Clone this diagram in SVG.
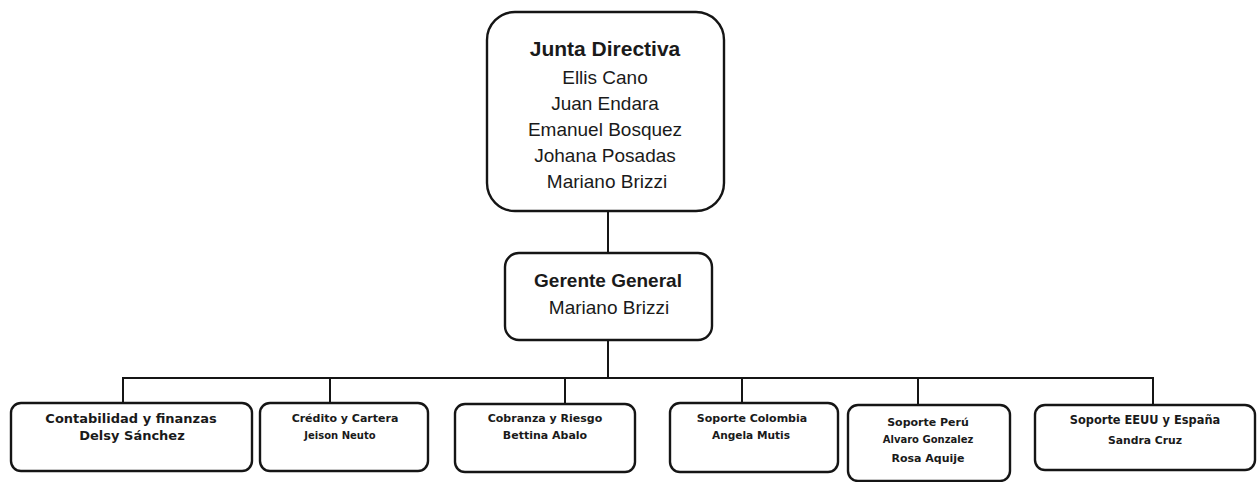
<svg xmlns="http://www.w3.org/2000/svg" width="1257" height="482" viewBox="0 0 1257 482">
<style>
.box{fill:#fff;stroke:#151515;stroke-width:2.4}
.conn line{stroke:#151515;stroke-width:2}
.t{font-family:"Liberation Sans",Arial,sans-serif;fill:#1a1a1a;text-anchor:middle}
.s{font-family:"DejaVu Sans",Verdana,sans-serif;fill:#1a1a1a;text-anchor:middle;font-weight:bold}
</style>
<rect width="1257" height="482" fill="#fff"/>
<g id="connectors" class="conn">
<line x1="608" y1="211" x2="608" y2="253"/>
<line x1="608" y1="340" x2="608" y2="378"/>
<line x1="122" y1="378" x2="1154" y2="378"/>
<line x1="123" y1="378" x2="123" y2="403"/>
<line x1="330" y1="378" x2="330" y2="403"/>
<line x1="565" y1="378" x2="565" y2="404"/>
<line x1="742" y1="378" x2="742" y2="403"/>
<line x1="918" y1="378" x2="918" y2="405"/>
<line x1="1153" y1="378" x2="1153" y2="405"/>
</g>
<g id="junta">
<rect class="box" x="487" y="12" width="237" height="199" rx="28"/>
<text class="t" x="605" y="56" font-size="21" font-weight="bold">Junta Directiva</text>
<text class="t" x="605" y="84" font-size="19">Ellis Cano</text>
<text class="t" x="605" y="110" font-size="19">Juan Endara</text>
<text class="t" x="605" y="136" font-size="19">Emanuel Bosquez</text>
<text class="t" x="605" y="162" font-size="19">Johana Posadas</text>
<text class="t" x="607" y="188" font-size="19">Mariano Brizzi</text>
</g>
<g id="gerente">
<rect class="box" x="505" y="253" width="207" height="87" rx="14"/>
<text class="t" x="608" y="287" font-size="19" font-weight="bold">Gerente General</text>
<text class="t" x="609" y="314" font-size="19">Mariano Brizzi</text>
</g>
<g id="contabilidad">
<rect class="box" x="11" y="403" width="241" height="68" rx="10"/>
<text class="s" x="131" y="423" font-size="13">Contabilidad y finanzas</text>
<text class="s" x="132" y="440" font-size="13">Delsy Sánchez</text>
</g>
<g id="credito">
<rect class="box" x="260" y="403" width="168" height="68" rx="10"/>
<text class="s" x="345" y="422" font-size="11">Crédito y Cartera</text>
<text class="s" x="340" y="439" font-size="10">Jeison Neuto</text>
</g>
<g id="cobranza">
<rect class="box" x="455" y="404" width="180" height="68" rx="10"/>
<text class="s" x="545" y="422" font-size="11">Cobranza y Riesgo</text>
<text class="s" x="545" y="439" font-size="11">Bettina Abalo</text>
</g>
<g id="colombia">
<rect class="box" x="670" y="403" width="168" height="69" rx="10"/>
<text class="s" x="752" y="422" font-size="11">Soporte Colombia</text>
<text class="s" x="751" y="439" font-size="10.6">Angela Mutis</text>
</g>
<g id="peru">
<rect class="box" x="848" y="405" width="162" height="76" rx="10"/>
<text class="s" x="928" y="426" font-size="11">Soporte Perú</text>
<text class="s" x="928" y="443" font-size="10">Alvaro Gonzalez</text>
<text class="s" x="928" y="462" font-size="11">Rosa Aquije</text>
</g>
<g id="eeuu">
<rect class="box" x="1035" y="405" width="220" height="65" rx="10"/>
<text class="s" x="1145" y="424" font-size="11.4">Soporte EEUU y España</text>
<text class="s" x="1145" y="444" font-size="10.8">Sandra Cruz</text>
</g>
</svg>
